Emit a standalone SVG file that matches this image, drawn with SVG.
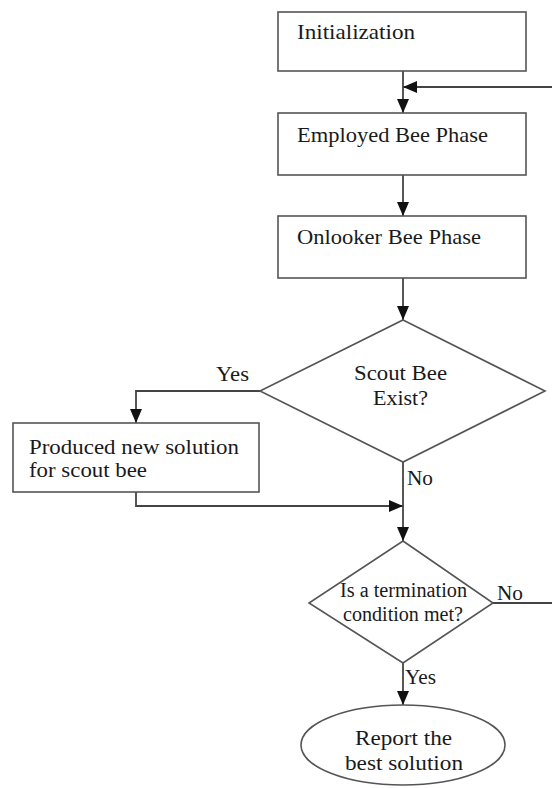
<svg xmlns="http://www.w3.org/2000/svg" width="552" height="788" viewBox="0 0 552 788">
<defs>
<marker id="ah" viewBox="0 0 14 12" refX="14" refY="6" markerWidth="14" markerHeight="12" markerUnits="userSpaceOnUse" orient="auto">
<path d="M0,0 L14,6 L0,12 Z" fill="#111"/>
</marker>
</defs>
<style>
.box{fill:#fff;stroke:#555;stroke-width:1.6}
.ln{fill:none;stroke:#444;stroke-width:1.8}
.t{font-family:"Liberation Serif","Times New Roman",serif;font-size:21.5px;fill:#1a1a1a}
.s{font-size:20.5px}
.c{text-anchor:middle}
</style>
<rect width="552" height="788" fill="#fff"/>
<g id="connectors">
<path class="ln" d="M403,71 V113" marker-end="url(#ah)"/>
<path class="ln" d="M552,87 H403" marker-end="url(#ah)"/>
<path class="ln" d="M403,175 V216" marker-end="url(#ah)"/>
<path class="ln" d="M403,278 V320" marker-end="url(#ah)"/>
<path class="ln" d="M260,391 H136 V423" marker-end="url(#ah)"/>
<path class="ln" d="M136,492 V506 H403" marker-end="url(#ah)"/>
<path class="ln" d="M403,462 V541" marker-end="url(#ah)"/>
<path class="ln" d="M493,603 H552"/>
<path class="ln" d="M403,663 V705" marker-end="url(#ah)"/>
<text class="t" x="216" y="381" textLength="33" lengthAdjust="spacingAndGlyphs">Yes</text>
<text class="t" x="407" y="485" textLength="26" lengthAdjust="spacingAndGlyphs">No</text>
<text class="t" x="497" y="600" textLength="26" lengthAdjust="spacingAndGlyphs">No</text>
<text class="t" x="405" y="684" textLength="31" lengthAdjust="spacingAndGlyphs">Yes</text>
</g>
<g id="init">
<rect class="box" x="278" y="12" width="248" height="59"/>
<text class="t" x="297" y="39" textLength="118" lengthAdjust="spacingAndGlyphs">Initialization</text>
</g>
<g id="employed">
<rect class="box" x="278" y="113" width="248" height="62"/>
<text class="t" x="297" y="142" textLength="191" lengthAdjust="spacingAndGlyphs">Employed Bee Phase</text>
</g>
<g id="onlooker">
<rect class="box" x="278" y="216" width="248" height="62"/>
<text class="t" x="297" y="244" textLength="184" lengthAdjust="spacingAndGlyphs">Onlooker Bee Phase</text>
</g>
<g id="scout">
<polygon class="box" points="403,320 545,391 403,462 260,391"/>
<text class="t" x="354" y="380" textLength="93" lengthAdjust="spacingAndGlyphs">Scout Bee</text>
<text class="t" x="373" y="405" textLength="55" lengthAdjust="spacingAndGlyphs">Exist?</text>
</g>
<g id="produce">
<rect class="box" x="13" y="423" width="246" height="69"/>
<text class="t s" x="29" y="454" textLength="210" lengthAdjust="spacingAndGlyphs">Produced new solution</text>
<text class="t s" x="29" y="477" textLength="118" lengthAdjust="spacingAndGlyphs">for scout bee</text>
</g>
<g id="termination">
<polygon class="box" points="403,541 493,603 403,663 309,603"/>
<text class="t s" x="340" y="597" textLength="127" lengthAdjust="spacingAndGlyphs">Is a termination</text>
<text class="t s" x="343" y="621" textLength="120" lengthAdjust="spacingAndGlyphs">condition met?</text>
</g>
<g id="report">
<ellipse class="box" cx="403" cy="745" rx="102" ry="40"/>
<text class="t" x="355" y="745" textLength="97" lengthAdjust="spacingAndGlyphs">Report the</text>
<text class="t" x="345" y="770" textLength="118" lengthAdjust="spacingAndGlyphs">best solution</text>
</g>
</svg>
